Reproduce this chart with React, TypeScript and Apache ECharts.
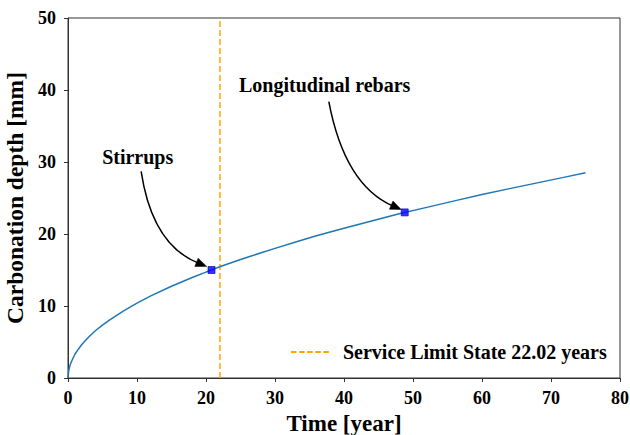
import React, { useEffect, useRef } from "react";
import * as echarts from "echarts";

// Carbonation depth curve
const timeYears = [0, 0.1, 0.3, 0.6, 1, 1.5, 2, 3, 4, 5, 6, 8, 10, 12, 15, 18, 20, 22, 25, 28, 30, 33, 36, 40, 44, 48, 52, 56, 60, 64, 68, 72, 75];
const depthMm = [0, 1.0, 1.8, 2.5, 3.3, 4.0, 4.65, 5.7, 6.6, 7.35, 8.05, 9.3, 10.4, 11.4, 12.75, 13.95, 14.7, 15.45, 16.45, 17.4, 18.0, 18.9, 19.75, 20.8, 21.8, 22.8, 23.7, 24.6, 25.5, 26.3, 27.1, 27.9, 28.5];

// Marked points (stirrups, longitudinal rebars)
const markerTime = [20.8, 48.8];
const markerDepth = [15.0, 23.0];

// Service limit state
const serviceLimitYears = 22.02;
const serviceLimitLabel = "Service Limit State 22.02 years";

// Annotations (data coordinates)
const annotationLabels = ["Stirrups", "Longitudinal rebars"];
const annotationTextPos = [[10.1, 30.7], [37.2, 40.7]];
const annotationArrowStart = [[10.6, 28.7], [37.8, 38.4]];
const annotationArrowCtrl = [[12.2, 18.5], [40.1, 26.8]];
const annotationArrowEnd = [[20.1, 15.5], [48.3, 23.4]];

const xTicks = { min: 0, max: 80, interval: 10 };
const yTicks = { min: 0, max: 50, interval: 10 };

const FONT = "Liberation Serif";
const AXIS_COLOR = "#333333";

export default function App() {
  const ref = useRef<HTMLDivElement>(null);

  useEffect(() => {
    if (!ref.current) return;
    const chart = echarts.init(ref.current, undefined, { renderer: "svg" });

    const curve = timeYears.map((t, i) => [t, depthMm[i]]);
    const markers = markerTime.map((t, i) => [t, markerDepth[i]]);

    chart.setOption({
      animation: false,
      backgroundColor: "#ffffff",
      textStyle: { fontFamily: FONT },
      grid: {
        left: 68,
        right: 10,
        top: 18,
        bottom: 57,
        outerBoundsMode: "none",
        containLabel: false,
        show: true,
        borderColor: AXIS_COLOR,
        borderWidth: 1,
        backgroundColor: "transparent",
      },
      legend: {
        show: true,
        data: [
          {
            name: serviceLimitLabel,
            icon: "path://M0 0h5.5v2H0zM8.1 0h5.5v2H8.1zM16.2 0h5.5v2h-5.5zM24.3 0h5.5v2h-5.5zM32.4 0h5.5v2h-5.5z",
          },
        ],
        left: 286,
        top: 337,
        itemWidth: 38,
        itemHeight: 2,
        textStyle: {
          fontFamily: FONT,
          fontWeight: "bold",
          fontSize: 20,
          color: "#000",
          padding: [0, 0, 0, 9],
        },
      },
      xAxis: {
        type: "value",
        min: xTicks.min,
        max: xTicks.max,
        interval: xTicks.interval,
        name: "Time [year]",
        nameLocation: "middle",
        nameGap: 32,
        nameTextStyle: { fontFamily: FONT, fontWeight: "bold", fontSize: 23, color: "#000" },
        axisLine: { show: true, onZero: false, lineStyle: { color: AXIS_COLOR, width: 1 } },
        axisTick: { show: true, inside: false, length: 4, lineStyle: { color: AXIS_COLOR } },
        axisLabel: { fontFamily: FONT, fontWeight: "bold", fontSize: 18, color: "#000", margin: 11 },
        splitLine: { show: false },
      },
      yAxis: {
        type: "value",
        min: yTicks.min,
        max: yTicks.max,
        interval: yTicks.interval,
        name: "Carbonation depth [mm]",
        nameLocation: "middle",
        nameGap: 35,
        nameTextStyle: { fontFamily: FONT, fontWeight: "bold", fontSize: 23.5, color: "#000" },
        axisLine: { show: true, onZero: false, lineStyle: { color: AXIS_COLOR, width: 1 } },
        axisTick: { show: true, inside: false, length: 4, lineStyle: { color: AXIS_COLOR } },
        axisLabel: { fontFamily: FONT, fontWeight: "bold", fontSize: 18, color: "#000", margin: 12 },
        splitLine: { show: false },
      },
      series: [
        {
          type: "line",
          name: "Carbonation depth",
          data: curve,
          showSymbol: false,
          symbol: "none",
          smooth: false,
          lineStyle: { color: "#1f77b4", width: 1.5 },
          z: 3,
        },
        {
          type: "line",
          name: serviceLimitLabel,
          data: [[serviceLimitYears, yTicks.min], [serviceLimitYears, yTicks.max]],
          showSymbol: false,
          symbol: "none",
          itemStyle: { color: "#ffa500" },
          lineStyle: { color: "#ffa500", width: 1.5, type: [6, 3] },
          z: 2,
        },
        {
          type: "scatter",
          name: "Markers",
          data: markers,
          symbol: "rect",
          symbolSize: 7,
          itemStyle: { color: "#0000ff", borderColor: "#0000b0", borderWidth: 0.8 },
          z: 5,
        },
      ],
    });

    const px = (p: number[]) => chart.convertToPixel({ gridIndex: 0 }, p) as number[];
    const graphics: any[] = [];
    annotationLabels.forEach((label, i) => {
      const tp = px(annotationTextPos[i]);
      const s = px(annotationArrowStart[i]);
      const c = px(annotationArrowCtrl[i]);
      const e = px(annotationArrowEnd[i]);
      graphics.push({
        type: "text",
        x: tp[0],
        y: tp[1],
        style: {
          text: label,
          fontFamily: FONT,
          fontWeight: "bold",
          fontSize: 20,
          fill: "#000",
          align: "center",
          verticalAlign: "middle",
        },
        z: 10,
      });
      const dx = e[0] - c[0];
      const dy = e[1] - c[1];
      const len = Math.sqrt(dx * dx + dy * dy);
      const ux = dx / len;
      const uy = dy / len;
      const headLen = 11;
      const headHalf = 4.5;
      const bx = e[0] - ux * headLen;
      const by = e[1] - uy * headLen;
      graphics.push({
        type: "bezierCurve",
        shape: { x1: s[0], y1: s[1], cpx1: c[0], cpy1: c[1], x2: bx + ux * 2, y2: by + uy * 2 },
        style: { stroke: "#000", lineWidth: 1.5, fill: null },
        z: 10,
      });
      graphics.push({
        type: "polygon",
        shape: {
          points: [
            [e[0], e[1]],
            [bx - uy * headHalf, by + ux * headHalf],
            [bx + uy * headHalf, by - ux * headHalf],
          ],
        },
        style: { fill: "#000", stroke: "#000", lineWidth: 0.5 },
        z: 10,
      });
    });
    chart.setOption({ graphic: graphics });

    return () => chart.dispose();
  }, []);

  return (
    <div
      ref={ref}
      style={{ position: "fixed", left: 0, top: 0, width: 630, height: 435, background: "#fff" }}
    />
  );
}
